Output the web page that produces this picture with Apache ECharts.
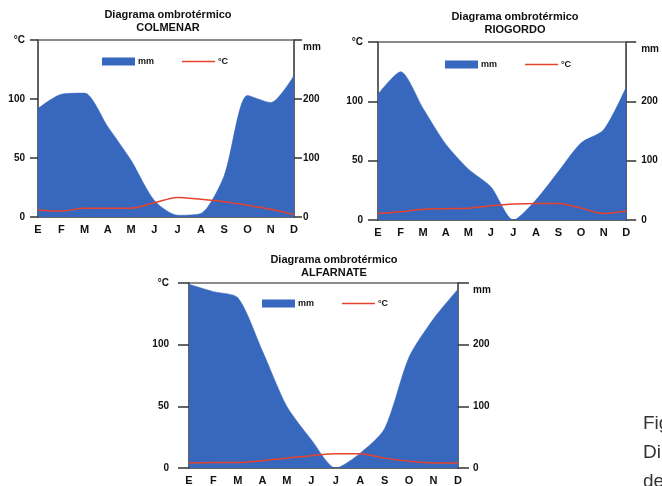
<!DOCTYPE html>
<html>
<head>
<meta charset="utf-8">
<script src="https://cdn.jsdelivr.net/npm/echarts@6/dist/echarts.min.js"></script>
<style>
html,body{margin:0;padding:0;background:#fff;}
#c{width:662px;height:486px;}
</style>
</head>
<body>
<div id="c"></div>
<script>
// ---- data ----
const months = ['E','F','M','A','M','J','J','A','S','O','N','D'];
const chartTitle = 'Diagrama ombrotérmico';
const stations = ['COLMENAR','RIOGORDO','ALFARNATE'];
const precipName = 'mm';
const tempName = '°C';
// precipitation (mm, right axis)
const precip1 = [184, 208, 210, 153, 96, 28, 3, 6, 70, 206, 194, 240];
const precip2 = [212, 250, 188, 128, 86, 56, 0, 34, 82, 130, 152, 224];
const precip3 = [298, 286, 276, 190, 100, 46, 0, 24, 64, 180, 242, 290];
// temperature (°C, left axis)
const temp1 = [6, 5, 7.5, 7.5, 7.5, 12, 16.5, 15, 13, 10, 6.5, 2];
const temp2 = [5.5, 7, 9, 9.5, 10, 12, 13.5, 14, 14, 10, 5.5, 7.5];
const temp3 = [4, 4.5, 4.5, 6, 8, 10, 11.5, 11.5, 8, 5.4, 4, 4];
const leftMax = 150, leftStep = 50;
const rightMax = 300, rightStep = 100;
const captionLines = ['Fig', 'Di', 'de'];

const precips = [precip1, precip2, precip3];
const temps = [temp1, temp2, temp3];

// ---- layout ----
const grids = [
  {left: 38, top: 40, width: 256, height: 177},
  {left: 378, top: 42, width: 250, height: 178},
  {left: 189, top: 283, width: 269, height: 189}
];
const axisStyle = [
  {lm: 13, rm: 9, tl: 8},
  {lm: 15, rm: 15, tl: 10},
  {lm: 20, rm: 15, tl: 11}
];
const titlePos = [
  {x: 168, y: 8},
  {x: 515, y: 10},
  {x: 334, y: 253}
];
const legendPos = [
  {x: 102, y: 57},
  {x: 445, y: 60},
  {x: 262, y: 299}
];

const BLUE = '#3768be';
const RED = '#e5432e';
const FONT = '"Liberation Sans", Arial, sans-serif';
const LINE_ICON = 'path://M0,0H0.01V0.01H0Z M0,3.2H33V4.8H0Z M32.99,7.99H33V8H32.99Z';

const option = {
  animation: false,
  backgroundColor: '#fff',
  title: stations.map((s, i) => ({
    text: chartTitle + '\n' + s,
    left: titlePos[i].x,
    top: titlePos[i].y,
    textAlign: 'center',
    padding: 0,
    textStyle: {fontSize: 11, fontWeight: 'bold', color: '#111', lineHeight: 13, fontFamily: FONT}
  })),
  legend: legendPos.map(p => ({
    left: p.x, top: p.y, padding: 0,
    itemWidth: 33, itemHeight: 8, itemGap: 28,
    data: [{name: precipName, icon: 'rect'}, {name: tempName, icon: LINE_ICON}],
    textStyle: {fontSize: 9, fontWeight: 'bold', color: '#111', fontFamily: FONT, padding: [0,0,0,-2]}
  })),
  grid: grids.map(g => Object.assign({show: true, borderColor: '#666', borderWidth: 1.5, backgroundColor: 'transparent'}, g)),
  xAxis: grids.map((g, i) => ({
    type: 'category', gridIndex: i, data: months, boundaryGap: false,
    axisLine: {show: true, lineStyle: {color: '#555', width: 1.5}},
    axisTick: {show: false},
    axisLabel: {fontSize: 11, fontWeight: 'bold', color: '#111', margin: 7, fontFamily: FONT, interval: 0},
    splitLine: {show: false}
  })),
  yAxis: [].concat(...grids.map((g, i) => [
    {
      type: 'value', gridIndex: i, position: 'left', min: 0, max: leftMax, interval: leftStep,
      axisLine: {show: true, lineStyle: {color: '#555', width: 1.5}},
      axisTick: {show: true, length: axisStyle[i].tl, lineStyle: {color: '#333', width: 1.5}},
      axisLabel: {fontSize: 10, fontWeight: 'bold', color: '#111', margin: axisStyle[i].lm, fontFamily: FONT,
        formatter: v => v === leftMax ? tempName : String(v)},
      splitLine: {show: false}
    },
    {
      type: 'value', gridIndex: i, position: 'right', min: 0, max: rightMax, interval: rightStep,
      axisLine: {show: true, lineStyle: {color: '#555', width: 1.5}},
      axisTick: {show: true, length: axisStyle[i].tl, lineStyle: {color: '#333', width: 1.5}},
      axisLabel: {fontSize: 10, fontWeight: 'bold', color: '#111', margin: axisStyle[i].rm, fontFamily: FONT,
        formatter: v => v === rightMax ? '{u|' + precipName + '}' : String(v),
        rich: {u: {fontSize: 10, fontWeight: 'bold', color: '#111', fontFamily: FONT, padding: [14, 0, 0, 0]}}},
      splitLine: {show: false}
    }
  ])),
  series: [].concat(...grids.map((g, i) => [
    {
      name: precipName, type: 'line', xAxisIndex: i, yAxisIndex: i * 2 + 1,
      data: precips[i], smooth: 0.25, symbol: 'none',
      lineStyle: {color: BLUE, width: 0.5}, itemStyle: {color: BLUE},
      areaStyle: {color: BLUE, opacity: 1}, z: 2
    },
    {
      name: tempName, type: 'line', xAxisIndex: i, yAxisIndex: i * 2,
      data: temps[i], smooth: 0.3, symbol: 'none',
      lineStyle: {color: RED, width: 1.5}, itemStyle: {color: RED}, z: 3
    }
  ])),
  graphic: captionLines.map((t, k) => ({
    type: 'text', left: 643, top: 414 + k * 29,
    style: {text: t, fill: '#333', font: '19px ' + FONT}
  }))
};

const chart = echarts.init(document.getElementById('c'), null, {renderer: 'canvas'});
chart.setOption(option);
</script>
</body>
</html>
